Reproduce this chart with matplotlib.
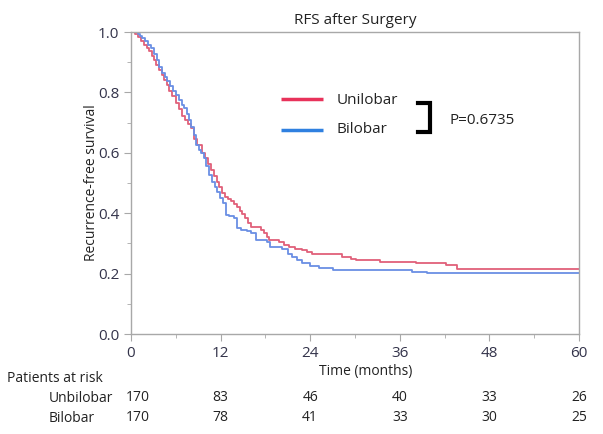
import matplotlib
matplotlib.use("Agg")
import matplotlib.pyplot as plt
from matplotlib.ticker import MultipleLocator

plt.rcParams["font.family"] = ["Open Sans", "DejaVu Sans"]

# ── Data (Kaplan-Meier step points) ─────────────────────────────────────────
uni_t = [0, 0.6, 1.0, 1.3, 1.7, 2.1, 2.4, 2.8, 3.1, 3.4, 3.75, 4.1, 4.4, 4.8,
         5.1, 5.5, 6.0, 6.4, 6.8, 7.2, 7.6, 8.0, 8.4, 8.9, 9.5, 9.9, 10.3,
         10.7, 11.1, 11.5, 11.8, 12.2, 12.6, 13.0, 13.4, 13.8, 14.2, 14.6,
         14.9, 15.3, 15.7, 16.1, 17.4, 17.8, 18.2, 18.5, 19.8, 20.5, 21.2,
         22.0, 22.9, 23.6, 24.3, 28.3, 29.5, 30.2, 33.3, 38.2, 42.2, 43.6, 60]
uni_s = [1.0, 0.994, 0.982, 0.97, 0.958, 0.947, 0.937, 0.92, 0.907, 0.89,
         0.874, 0.857, 0.841, 0.823, 0.805, 0.788, 0.765, 0.745, 0.722, 0.708,
         0.695, 0.682, 0.645, 0.625, 0.600, 0.582, 0.562, 0.543, 0.522, 0.503,
         0.487, 0.468, 0.455, 0.447, 0.440, 0.432, 0.42, 0.408, 0.398, 0.385,
         0.368, 0.354, 0.346, 0.334, 0.322, 0.311, 0.305, 0.295, 0.288, 0.282,
         0.278, 0.27, 0.265, 0.255, 0.25, 0.245, 0.238, 0.235, 0.228, 0.215,
         0.215]

bi_t = [0, 0.9, 1.2, 1.5, 1.9, 2.3, 2.7, 3.1, 3.5, 3.8, 4.2, 4.5, 4.8, 5.2,
        5.6, 6.0, 6.4, 6.8, 7.1, 7.5, 7.8, 8.1, 8.5, 8.7, 9.1, 9.4, 9.8, 10.1,
        10.5, 10.8, 11.2, 11.5, 11.9, 12.3, 12.7, 13.1, 13.8, 14.2, 14.8,
        15.5, 16.1, 16.8, 18.2, 18.6, 20.2, 21.0, 21.6, 22.3, 22.9, 24.0,
        25.2, 27.0, 37.7, 39.6, 60]
bi_s = [1.0, 0.994, 0.987, 0.98, 0.97, 0.958, 0.947, 0.927, 0.907, 0.885,
        0.864, 0.85, 0.838, 0.822, 0.806, 0.791, 0.775, 0.760, 0.748, 0.728,
        0.709, 0.685, 0.659, 0.626, 0.61, 0.598, 0.583, 0.555, 0.526, 0.505,
        0.488, 0.470, 0.452, 0.434, 0.394, 0.390, 0.384, 0.351, 0.345, 0.34,
        0.334, 0.311, 0.305, 0.288, 0.281, 0.265, 0.255, 0.245, 0.235, 0.225,
        0.219, 0.212, 0.205, 0.202, 0.202]

risk_times = [0, 12, 24, 36, 48, 60]
risk_uni = [170, 83, 46, 40, 33, 26]
risk_bi = [170, 78, 41, 33, 30, 25]
p_value = "P=0.6735"

RED_CURVE, BLUE_CURVE = "#e0607a", "#6a8fe4"
RED_KEY, BLUE_KEY = "#e8325a", "#2f80e0"
GREY = "#a8a8a8"
TXT = "#222222"

fig = plt.figure(figsize=(6.03, 4.34), dpi=100)
ax = fig.add_axes([0.2172, 0.2304, 0.743, 0.6958])

ax.plot(uni_t, uni_s, drawstyle="steps-post", color=RED_CURVE, lw=1.3)
ax.plot(bi_t, bi_s, drawstyle="steps-post", color=BLUE_CURVE, lw=1.3)

ax.set_xlim(0, 60)
ax.set_ylim(0, 1.0)
ax.xaxis.set_major_locator(MultipleLocator(12))
ax.xaxis.set_minor_locator(MultipleLocator(6))
ax.yaxis.set_major_locator(MultipleLocator(0.2))
ax.yaxis.set_minor_locator(MultipleLocator(0.1))
ax.yaxis.set_major_formatter(plt.FormatStrFormatter("%.1f"))
for s in ax.spines.values():
    s.set_color(GREY)
    s.set_linewidth(1.0)
ax.tick_params(which="both", color=GREY, direction="out", labelsize=11,
               labelcolor="#33334a")
ax.tick_params(which="major", length=5)
ax.tick_params(which="minor", length=3)

ax.set_title("RFS after Surgery", fontsize=11, color=TXT, pad=6)
ax.set_ylabel("Recurrence-free survival", fontsize=10, color=TXT)
ax.yaxis.set_label_coords(-0.072, 0.5)
ax.set_xlabel("Time (months)", fontsize=10, color=TXT)
ax.xaxis.set_label_coords(0.525, -0.10)

# legend key, bracket and p-value
ax.plot([0.335, 0.429], [0.778, 0.778], transform=ax.transAxes,
        color=RED_KEY, lw=2.5, solid_capstyle="butt")
ax.plot([0.335, 0.429], [0.675, 0.675], transform=ax.transAxes,
        color=BLUE_KEY, lw=2.5, solid_capstyle="butt")
ax.text(0.458, 0.772, "Unilobar", transform=ax.transAxes, fontsize=11,
        va="center", color=TXT)
ax.text(0.458, 0.676, "Bilobar", transform=ax.transAxes, fontsize=11,
        va="center", color=TXT)
ax.plot([0.641, 0.667, 0.667, 0.641], [0.766, 0.766, 0.668, 0.668],
        transform=ax.transAxes, color="black", lw=3, solid_joinstyle="miter")
ax.text(0.712, 0.708, p_value, transform=ax.transAxes, fontsize=11,
        va="center", color=TXT)

# patients at risk table
fig.text(7 / 603, 1 - 379 / 434, "Patients at risk", fontsize=10,
         va="center", color=TXT)
fig.text(49 / 603, 1 - 398 / 434, "Unbilobar", fontsize=10, va="center",
         color=TXT)
fig.text(49 / 603, 1 - 418 / 434, "Bilobar", fontsize=10, va="center",
         color=TXT)
trans = ax.get_xaxis_transform()
for t, u, b in zip(risk_times, risk_uni, risk_bi):
    dx = 0.9 if t == 0 else 0
    ax.text(t + dx, -0.21, str(u), transform=trans, ha="center",
            va="center", fontsize=10, color=TXT, clip_on=False)
    ax.text(t + dx, -0.276, str(b), transform=trans, ha="center",
            va="center", fontsize=10, color=TXT, clip_on=False)

fig.savefig("out.png", dpi=100)
